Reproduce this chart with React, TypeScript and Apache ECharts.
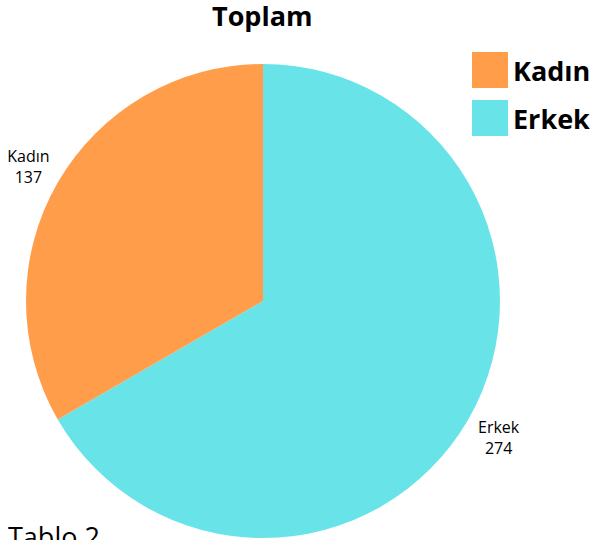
import React, { useEffect, useRef } from "react";
import * as echarts from "echarts";

const categories = ["Erkek", "Kadın"];
const values = [274, 137];
const legendOrder = ["Kadın", "Erkek"];
const colors = ["#68E4E8", "#FF9D4B"];
const titleText = "Toplam";
const footnote = "Tablo 2";

const FONT = "'Open Sans', 'Noto Sans', sans-serif";

export default function App() {
  const ref = useRef<HTMLDivElement>(null);
  useEffect(() => {
    if (!ref.current) return;
    const chart = echarts.init(ref.current, undefined, { renderer: "svg" });
    chart.setOption({
      animation: false,
      backgroundColor: "#ffffff",
      title: {
        text: titleText,
        left: 207,
        top: 2,
        padding: [0, 5, 5, 5],
        textStyle: { fontFamily: FONT, fontSize: 27, fontWeight: "bold", color: "#000" },
      },
      legend: {
        data: legendOrder,
        orient: "vertical",
        left: 467,
        top: 47,
        itemWidth: 36,
        itemHeight: 36,
        itemGap: 12,
        icon: "rect",
        textStyle: { fontFamily: FONT, fontSize: 27, fontWeight: "bold", color: "#000", padding: [0, 0, 0, 0] },
      },
      graphic: [
        {
          type: "text",
          left: 8,
          top: 523,
          style: { text: footnote, fontFamily: FONT, fontSize: 27, fill: "#000" },
        },
      ],
      series: [
        {
          type: "pie",
          center: [263, 301],
          radius: 237,
          startAngle: 90,
          clockwise: true,
          avoidLabelOverlap: false,
          color: colors,
          data: categories.map((c, i) => ({ name: c, value: values[i] })),
          label: {
            show: true,
            position: "outside",
            formatter: "{a|{b}}\n{a|{c}}",
            rich: {
              a: { fontFamily: FONT, fontSize: 16, lineHeight: 21, color: "#000", width: 44, align: "center" },
            },
          },
          labelLine: { show: false, length: 12, length2: 0 },
          labelLayout: (p: any) =>
            p.dataIndex === 0 ? { dx: -7, dy: 12 } : { dx: 8, dy: -10 },
          emphasis: { disabled: true },
        },
      ],
    });
    return () => chart.dispose();
  }, []);
  return (
    <div
      ref={ref}
      style={{ position: "absolute", left: 0, top: 0, width: 595, height: 540 }}
    />
  );
}
